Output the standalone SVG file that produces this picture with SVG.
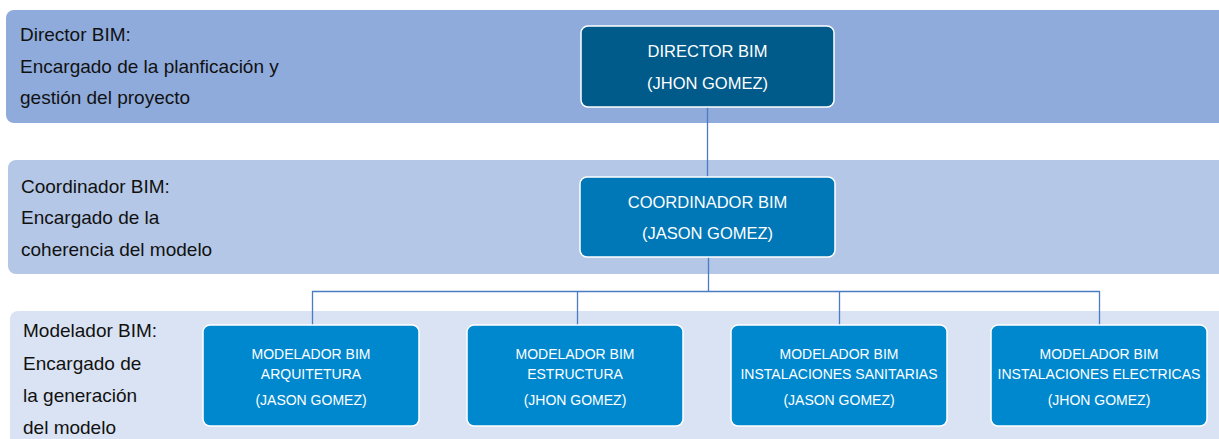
<svg xmlns="http://www.w3.org/2000/svg" width="1219" height="439" viewBox="0 0 1219 439">
<style>
.lbl{font-family:"Liberation Sans",Arial,sans-serif;font-size:19px;fill:#111}
.nt{font-family:"Liberation Sans",Arial,sans-serif;font-size:16.5px;fill:#fff;text-anchor:middle}
.mt{font-family:"Liberation Sans",Arial,sans-serif;font-size:14px;fill:#fff;text-anchor:middle}
.node{stroke:#fff;stroke-width:1.5}
.conn{fill:none;stroke:#4A7CC4;stroke-width:1.3}
</style>
<rect width="1219" height="439" fill="#fff"/>
<g id="bands">
<rect x="6" y="10" width="1225" height="113" rx="8" fill="#8FABDC"/>
<rect x="8" y="160" width="1223" height="114" rx="8" fill="#B4C7E7"/>
<rect x="10" y="311" width="1221" height="140" rx="8" fill="#DAE3F3"/>
</g>
<g id="labels">
<text class="lbl" x="20" y="41">Director BIM:</text>
<text class="lbl" x="20" y="73">Encargado de la planficación y</text>
<text class="lbl" x="20" y="104">gestión del proyecto</text>
<text class="lbl" x="21" y="193">Coordinador BIM:</text>
<text class="lbl" x="21" y="224">Encargado de la</text>
<text class="lbl" x="21" y="256">coherencia del modelo</text>
<text class="lbl" x="23" y="337">Modelador BIM:</text>
<text class="lbl" x="23" y="370">Encargado de</text>
<text class="lbl" x="23" y="402">la generación</text>
<text class="lbl" x="23" y="434">del modelo</text>
</g>
<g id="connectors">
<path class="conn" d="M707.5 107V177"/>
<path class="conn" d="M708.5 257V291.5"/>
<path class="conn" d="M312.5 325V291.5H1099.5V325"/>
<path class="conn" d="M577.5 291.5V325"/>
<path class="conn" d="M839.5 291.5V325"/>
</g>
<g id="director">
<rect class="node" x="581" y="26" width="253" height="81" rx="7" fill="#005A8A"/>
<text class="nt" x="707.5" y="57">DIRECTOR BIM</text>
<text class="nt" x="707.5" y="89">(JHON GOMEZ)</text>
</g>
<g id="coordinador">
<rect class="node" x="580" y="177" width="255" height="80" rx="7" fill="#0077B6"/>
<text class="nt" x="707.5" y="208">COORDINADOR BIM</text>
<text class="nt" x="707.5" y="239">(JASON GOMEZ)</text>
</g>
<g id="mod-arquitectura">
<rect class="node" x="203" y="325" width="216" height="101" rx="7" fill="#0088CF"/>
<text class="mt" x="311" y="359">MODELADOR BIM</text>
<text class="mt" x="311" y="379">ARQUITETURA</text>
<text class="mt" x="311" y="405">(JASON GOMEZ)</text>
</g>
<g id="mod-estructura">
<rect class="node" x="467" y="325" width="216" height="101" rx="7" fill="#0088CF"/>
<text class="mt" x="575" y="359">MODELADOR BIM</text>
<text class="mt" x="575" y="379">ESTRUCTURA</text>
<text class="mt" x="575" y="405">(JHON GOMEZ)</text>
</g>
<g id="mod-sanitarias">
<rect class="node" x="731" y="325" width="216" height="101" rx="7" fill="#0088CF"/>
<text class="mt" x="839" y="359">MODELADOR BIM</text>
<text class="mt" x="839" y="379">INSTALACIONES SANITARIAS</text>
<text class="mt" x="839" y="405">(JASON GOMEZ)</text>
</g>
<g id="mod-electricas">
<rect class="node" x="991" y="325" width="216" height="101" rx="7" fill="#0088CF"/>
<text class="mt" x="1099" y="359">MODELADOR BIM</text>
<text class="mt" x="1099" y="379">INSTALACIONES ELECTRICAS</text>
<text class="mt" x="1099" y="405">(JHON GOMEZ)</text>
</g>
</svg>
